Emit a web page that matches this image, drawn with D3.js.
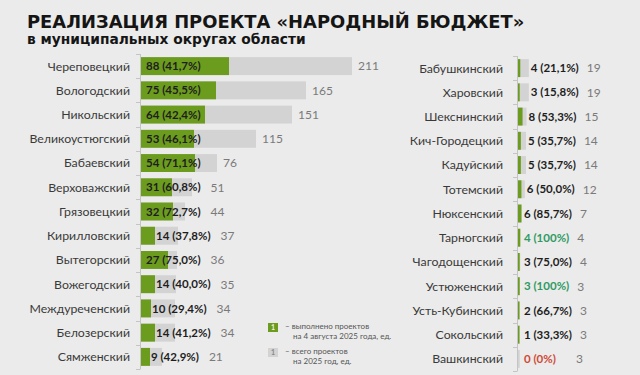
<!DOCTYPE html>
<html><head><meta charset="utf-8">
<script src="https://cdn.jsdelivr.net/npm/d3@7"></script>
<style>
html,body{margin:0;padding:0;background:#ebebeb;}
svg{display:block;}
</style></head>
<body>
<script>
const titleText = "РЕАЛИЗАЦИЯ ПРОЕКТА «НАРОДНЫЙ БЮДЖЕТ»";
const subtitleText = "в муниципальных округах области";

const leftNames = ["Череповецкий","Вологодский","Никольский","Великоустюгский","Бабаевский","Верховажский","Грязовецкий","Кирилловский","Вытегорский","Вожегодский","Междуреченский","Белозерский","Сямженский"];
const leftDone  = [88,75,64,53,54,31,32,14,27,14,10,14,9];
const leftTotal = [211,165,151,115,76,51,44,37,36,35,34,34,21];

const rightNames = ["Бабушкинский","Харовский","Шекснинский","Кич-Городецкий","Кадуйский","Тотемский","Нюксенский","Тарногский","Чагодощенский","Устюженский","Усть-Кубинский","Сокольский","Вашкинский"];
const rightDone  = [4,3,8,5,5,6,6,4,3,3,2,1,0];
const rightTotal = [19,19,15,14,14,12,7,4,4,3,3,3,3];

const legendLabels = [["– выполнено проектов","на 4 августа 2025 года, ед."],["– всего проектов","на 2025 год, ед."]];

const W = 640, H = 375;
const GREEN = "#6c9c1e", GRAY = "#d3d3d3", AXIS = "#c4c4c4";
const svg = d3.select("body").append("svg").attr("width", W).attr("height", H);
svg.append("rect").attr("width", W).attr("height", H).attr("fill", "#ebebeb");

svg.append("text").attr("x", 27).attr("y", 28)
  .attr("font-family", "DejaVu Sans").attr("font-weight", "bold").attr("font-size", 17.9)
  .attr("fill", "#151515").text(titleText);
svg.append("text").attr("x", 27).attr("y", 44)
  .attr("font-family", "DejaVu Sans").attr("font-weight", "bold").attr("font-size", 13.8)
  .attr("fill", "#151515").text(subtitleText);

function pctLabel(d, t) {
  const p = t ? d / t * 100 : 0;
  const s = (p === 100 || p === 0) ? String(p) : p.toFixed(1).replace(".", ",");
  return d + " (" + s + "%)";
}

function panel(names, done, total, opt) {
  const y = d3.scaleBand().domain(names).range([opt.y0, opt.y1]).paddingInner(0.26).paddingOuter(0.13);
  const x = d3.scaleLinear().domain([0, 1]).range([opt.x0, opt.x0 + opt.k]);
  const g = svg.append("g");
  const bounds = d3.range(names.length + 1).map(i => opt.y0 + i * y.step());
  g.append("line").attr("x1", opt.x0 + 0.5).attr("x2", opt.x0 + 0.5)
    .attr("y1", opt.y0).attr("y2", opt.y1).attr("stroke", AXIS).attr("stroke-width", 1);
  g.selectAll(".tk").data(bounds).join("line")
    .attr("x1", opt.x0 - 4).attr("x2", opt.x0 + 0.5)
    .attr("y1", d => Math.round(d) + 0.5).attr("y2", d => Math.round(d) + 0.5)
    .attr("stroke", AXIS);
  const rows = names.map((n, i) => ({n, d: done[i], t: total[i]}));
  g.selectAll(".tot").data(rows).join("rect")
    .attr("x", opt.x0 + 1).attr("y", r => y(r.n)).attr("height", y.bandwidth())
    .attr("width", r => x(r.t) - opt.x0).attr("fill", GRAY);
  g.selectAll(".done").data(rows).join("rect")
    .attr("x", opt.x0 + 1).attr("y", r => y(r.n)).attr("height", y.bandwidth())
    .attr("width", r => Math.max(r.d ? 1.5 : 0, x(r.d) - opt.x0)).attr("fill", GREEN);
  g.selectAll(".cat").data(rows).join("text")
    .attr("x", opt.labelX).attr("y", r => y(r.n) + y.bandwidth() / 2)
    .attr("dy", "0.36em").attr("text-anchor", "end")
    .attr("font-family", "Lato").attr("font-size", 12.3).attr("fill", "#3a3a3a")
    .text(r => r.n);
  const inner = g.selectAll(".in").data(rows).join("text")
    .attr("x", r => opt.innerX(r, x)).attr("y", r => y(r.n) + y.bandwidth() / 2)
    .attr("dy", "0.36em")
    .attr("font-family", "Lato").attr("font-weight", "bold").attr("font-size", 11.5)
    .attr("fill", r => r.d === 0 ? "#cf4a36" : (r.d === r.t ? "#2f9a63" : "#1e1e1e"))
    .text(r => pctLabel(r.d, r.t));
  inner.each(function(r) { const b = this.getBBox(); r.innerEnd = b.x + b.width; });
  g.selectAll(".tl").data(rows).join("text")
    .attr("x", r => opt.totX(r, x)).attr("y", r => y(r.n) + y.bandwidth() / 2)
    .attr("dy", "0.36em")
    .attr("font-family", "Lato").attr("font-size", 12).attr("fill", "#7a7a7a")
    .text(r => r.t);
}

panel(leftNames, leftDone, leftTotal, {
  x0: 140, k: 1, y0: 54, y1: 369, labelX: 130,
  innerX: (r, x) => r.d >= 20 ? 146 : x(r.d) + 2,
  totX: (r, x) => Math.max(x(r.t) + 7, r.innerEnd + 10)
});
panel(rightNames, rightDone, rightTotal, {
  x0: 517, k: 0.57, y0: 56, y1: 371, labelX: 503,
  innerX: (r, x) => Math.max(524, x(r.t) + 3),
  totX: (r, x) => Math.max(576, r.innerEnd + 8)
});

const legendColors = [GREEN, GRAY];
const lg = svg.append("g");
legendLabels.forEach((lines, i) => {
  const yy = 323 + i * 25;
  lg.append("rect").attr("x", 268).attr("y", yy).attr("width", 10).attr("height", 9).attr("fill", legendColors[i]);
  lg.append("text").attr("x", 273).attr("y", yy + 7).attr("text-anchor", "middle")
    .attr("font-family", "Lato").attr("font-size", 7).attr("font-weight", "bold")
    .attr("fill", i === 0 ? "#f0f0e0" : "#888").text("1");
  lines.forEach((t, j) => {
    lg.append("text").attr("x", j === 0 ? 285 : 293).attr("y", yy + 6 + j * 10)
      .attr("font-family", "Lato").attr("font-size", 8).attr("fill", "#555").text(t);
  });
});
</script>
</body></html>
